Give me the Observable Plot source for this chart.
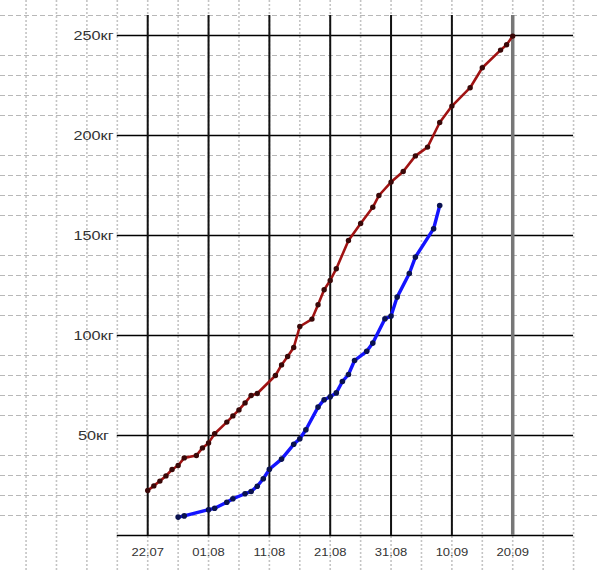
<!DOCTYPE html>
<html><head><meta charset="utf-8">
<script src="https://cdn.jsdelivr.net/npm/d3@7"></script>
<script src="https://cdn.jsdelivr.net/npm/@observablehq/plot@0.6"></script>
<style>body{margin:0;background:#fff} svg{display:block}</style>
</head><body><div id="chart"></div>
<script>
const year = 2013;
const redDates = ["22.07","23.07","24.07","25.07","26.07","27.07","28.07","30.07","31.07","01.08","02.08","04.08","05.08","06.08","07.08","08.08","09.08","12.08","13.08","14.08","15.08","16.08","18.08","19.08","20.08","21.08","22.08","24.08","26.08","28.08","29.08","31.08","02.09","04.09","06.09","08.09","10.09","13.09","15.09","18.09","19.09","20.09"];
const redKg = [22.5,24.8,27.2,29.8,33,35,38.8,40,43.8,46.3,50.9,56.7,59.8,62.8,66.3,70,71,80,85.3,89.5,94,104.5,108.2,115.4,122.9,127.5,133.4,147.5,156,164.1,170,176.7,182,189.8,194.2,206.5,214.7,223.9,233.9,242.7,245.4,249.7];
const blueDates = ["27.07","28.07","01.08","02.08","04.08","05.08","07.08","08.08","09.08","10.08","11.08","13.08","15.08","16.08","17.08","19.08","20.08","21.08","22.08","23.08","24.08","25.08","27.08","28.08","30.08","31.08","01.09","03.09","04.09","07.09","08.09"];
const blueKg = [9.2,9.8,12.9,13.6,16.6,18.4,20.9,22,24.6,28.4,33.1,38.2,45.6,48.4,52.9,64.2,67.9,69.4,71.3,77,80.5,87.5,92.1,96.2,108.4,109.7,119.2,131,139.2,153.4,165];
const xTickLabels = ["22.07","01.08","11.08","21.08","31.08","10.09","20.09"];
const yTicks = [50,100,150,200,250];
const yUnit = "кг";

const parse = s => { const [d,m] = s.split(".").map(Number); return new Date(Date.UTC(year, m-1, d)); };
const DAY = 864e5;
const t0 = parse(xTickLabels[0]);
const off = n => new Date(+t0 + n*DAY);

const red = redDates.map((d,i) => ({date: parse(d), kg: redKg[i]}));
const blue = blueDates.map((d,i) => ({date: parse(d), kg: blueKg[i]}));
const ticks = xTickLabels.map(s => ({date: parse(s), label: s}));

const minorKg = d3.range(10, 261, 10).filter(v => v % 50 !== 0);
const dashDays = d3.range(-25, 76, 5).map(off);
const frameX1 = off(-5), frameX2 = off(70);

const chart = Plot.plot({
  width: 600, height: 570,
  margin: 0,
  style: {background: "#fff", fontFamily: "'Liberation Sans', Arial, sans-serif"},
  x: {type: "utc", domain: [off(-24.2), off(74.43)], range: [0, 600], axis: null},
  y: {domain: [-17.5, 267.5], range: [570, 0], axis: null},
  marks: [
    Plot.ruleY(minorKg, {stroke: "#b8b8b8", strokeDasharray: "5,3", strokeWidth: 1}),
    Plot.ruleX(dashDays, {stroke: "#c4c4c4", strokeDasharray: "2,2", strokeWidth: 1.6}),
    Plot.ruleY([0, ...yTicks], {x1: frameX1, x2: frameX2, stroke: "#000", strokeWidth: 1.6}),
    Plot.ruleX(ticks.slice(0, -1), {x: "date", y1: 0, y2: 260, stroke: "#111", strokeWidth: 2}),
    Plot.ruleX(ticks.slice(-1), {x: "date", y1: 0, y2: 260, stroke: "#777", strokeWidth: 3.5}),
    Plot.line(red, {x: "date", y: "kg", stroke: "#a01212", strokeWidth: 2.6}),
    Plot.dot(red, {x: "date", y: "kg", r: 2.7, fill: "#3a0808"}),
    Plot.line(blue, {x: "date", y: "kg", stroke: "#1414ff", strokeWidth: 3.4}),
    Plot.dot(blue, {x: "date", y: "kg", r: 2.8, fill: "#0a1250"}),
    Plot.text(yTicks, {y: d => d, text: d => d + yUnit, frameAnchor: "left", dx: 93, textAnchor: "middle", fontSize: 12.5, fill: "#333"}),
    Plot.text(ticks, {x: "date", text: "label", frameAnchor: "bottom", dy: -15, textAnchor: "middle", fontSize: 10, fill: "#333"})
  ]
});
document.getElementById("chart").append(chart);
d3.select(chart).selectAll("g[aria-label=text] text").each(function() {
  const w = this.getComputedTextLength();
  this.setAttribute("textLength", (w * 1.3).toFixed(1));
  this.setAttribute("lengthAdjust", "spacingAndGlyphs");
});
</script>
</body></html>
